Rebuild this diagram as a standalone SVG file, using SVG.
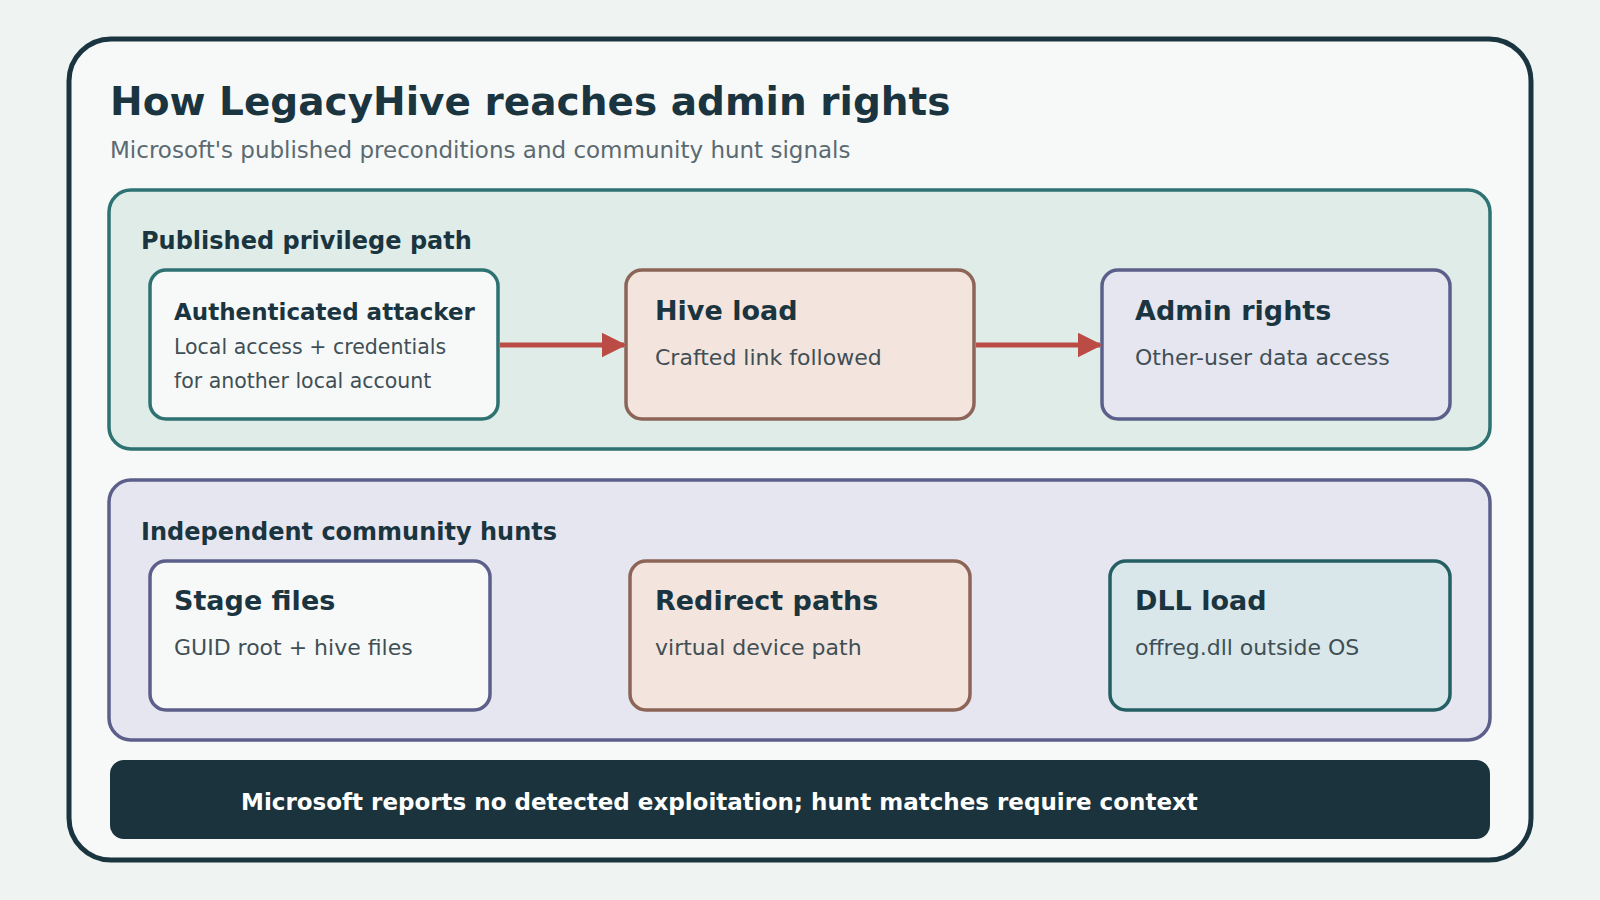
<svg xmlns="http://www.w3.org/2000/svg" width="1600" height="900" viewBox="0 0 1600 900">
<defs>
<style>
text{font-family:"DejaVu Sans","Noto Sans",sans-serif;}
.t{font-weight:bold;fill:#1b3540;}
.s{fill:#3f4f55;}
.node{stroke-width:3.5;}
</style>
<marker id="ah" viewBox="0 0 10 10" refX="9" refY="5" markerWidth="5" markerHeight="5" orient="auto" markerUnits="strokeWidth"><path d="M0,0 L10,5 L0,10 z" fill="#bb4c45"/></marker>
</defs>
<rect width="1600" height="900" fill="#eff3f2"/>
<rect x="69" y="39" width="1462" height="821" rx="42" fill="#f7f9f9" stroke="#1b3540" stroke-width="5"/>
<text x="110" y="115" class="t" font-size="39">How LegacyHive reaches admin rights</text>
<text x="110" y="158" font-size="23" fill="#5b6a70">Microsoft's published preconditions and community hunt signals</text>
<g id="panel1"><rect x="109" y="190" width="1381" height="259" rx="22" fill="#dfece8" stroke="#2e7272" stroke-width="3.5"/>
<text x="141" y="249" class="t" font-size="24">Published privilege path</text></g>
<g id="panel2"><rect x="109" y="480" width="1381" height="260" rx="22" fill="#e6e6f0" stroke="#5c5f8a" stroke-width="3.5"/>
<text x="141" y="540" class="t" font-size="24">Independent community hunts</text></g>
<g id="n1"><rect class="node" x="150" y="270" width="348" height="149" rx="16" fill="#f7f9f9" stroke="#2e7272"/>
<text x="174" y="320" class="t" font-size="23">Authenticated attacker</text>
<text x="174" y="354" class="s" font-size="20.5">Local access + credentials</text>
<text x="174" y="388" class="s" font-size="20.5">for another local account</text></g>
<g id="n2"><rect class="node" x="626" y="270" width="348" height="149" rx="16" fill="#f3e4dd" stroke="#8d6558"/>
<text x="655" y="320" class="t" font-size="27">Hive load</text>
<text x="655" y="365" class="s" font-size="22">Crafted link followed</text></g>
<g id="n3"><rect class="node" x="1102" y="270" width="348" height="149" rx="16" fill="#e6e6f0" stroke="#5c5f8a"/>
<text x="1135" y="320" class="t" font-size="27">Admin rights</text>
<text x="1135" y="365" class="s" font-size="22">Other-user data access</text></g>
<g id="n4"><rect class="node" x="150" y="561" width="340" height="149" rx="16" fill="#f7f9f9" stroke="#5c5f8a"/>
<text x="174" y="610" class="t" font-size="27">Stage files</text>
<text x="174" y="655" class="s" font-size="22">GUID root + hive files</text></g>
<g id="n5"><rect class="node" x="630" y="561" width="340" height="149" rx="16" fill="#f3e4dd" stroke="#8d6558"/>
<text x="655" y="610" class="t" font-size="27">Redirect paths</text>
<text x="655" y="655" class="s" font-size="22">virtual device path</text></g>
<g id="n6"><rect class="node" x="1110" y="561" width="340" height="149" rx="16" fill="#d9e7eb" stroke="#245f63"/>
<text x="1135" y="610" class="t" font-size="27">DLL load</text>
<text x="1135" y="655" class="s" font-size="22">offreg.dll outside OS</text></g>
<g id="connectors" stroke="#bb4c45" stroke-width="5" fill="none">
<path d="M500,345 L624,345" marker-end="url(#ah)"/>
<path d="M976,345 L1100,345" marker-end="url(#ah)"/>
</g>
<g id="footer"><rect x="110" y="760" width="1380" height="79" rx="14" fill="#1a333d"/>
<text x="241" y="810" font-size="23" font-weight="bold" fill="#ffffff">Microsoft reports no detected exploitation; hunt matches require context</text></g>
</svg>
